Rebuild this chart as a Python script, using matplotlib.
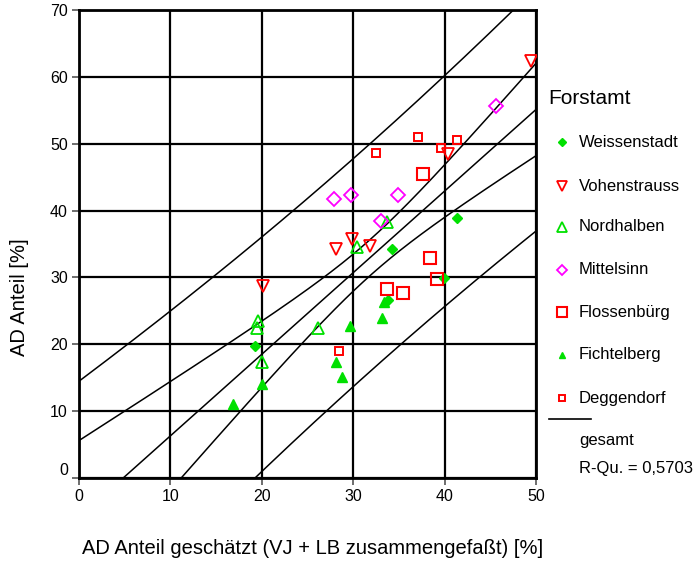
import numpy as np
import matplotlib
matplotlib.use("Agg")
import matplotlib.pyplot as plt
from matplotlib.lines import Line2D

plt.rcParams['font.family'] = ['Liberation Sans', 'DejaVu Sans']

# Messwerte je Forstamt: geschaetzter und tatsaechlicher AD-Anteil [%]
weissenstadt_x = [19.3, 33.8, 34.2, 39.9, 41.4]
weissenstadt_y = [19.7, 26.6, 34.25, 29.9, 38.9]
vohenstrauss_x = [20.1, 28.1, 29.9, 31.8, 40.4, 49.45]
vohenstrauss_y = [28.7, 34.2, 35.8, 34.7, 48.4, 62.4]
nordhalben_x = [19.6, 19.5, 20.05, 26.2, 30.4, 33.7]
nordhalben_y = [23.5, 22.5, 17.4, 22.4, 34.6, 38.3]
mittelsinn_x = [27.9, 29.8, 33.0, 34.9, 45.6]
mittelsinn_y = [41.7, 42.4, 38.5, 42.4, 55.6]
flossenburg_x = [33.7, 35.4, 38.4, 39.2, 37.6]
flossenburg_y = [28.3, 27.6, 32.9, 29.7, 45.5]
fichtelberg_x = [16.8, 20.0, 28.1, 28.8, 29.65, 33.2, 33.4]
fichtelberg_y = [11.0, 14.0, 17.4, 15.15, 22.8, 24.0, 26.3]
deggendorf_x = [28.45, 32.5, 37.1, 39.6, 41.4]
deggendorf_y = [19.0, 48.6, 51.0, 49.4, 50.5]

forstamt_names = ['Weissenstadt', 'Vohenstrauss', 'Nordhalben', 'Mittelsinn',
                  'Flossenbürg', 'Fichtelberg', 'Deggendorf']
r_squared_label = 'R-Qu. = 0,5703'

GREEN = '#00e000'
RED = '#ff0000'
MAGENTA = '#ff00ff'

series = [
    (weissenstadt_x, weissenstadt_y, dict(marker='D', ms=5.5, mfc=GREEN, mec=GREEN)),
    (vohenstrauss_x, vohenstrauss_y, dict(marker='v', ms=9, mfc='none', mec=RED, mew=1.3)),
    (nordhalben_x, nordhalben_y, dict(marker='^', ms=9, mfc='none', mec=GREEN, mew=1.3)),
    (mittelsinn_x, mittelsinn_y, dict(marker='D', ms=7, mfc='none', mec=MAGENTA, mew=1.3)),
    (flossenburg_x, flossenburg_y, dict(marker='s', ms=8.5, mfc='none', mec=RED, mew=1.5)),
    (fichtelberg_x, fichtelberg_y, dict(marker='^', ms=6.5, mfc=GREEN, mec=GREEN)),
    (deggendorf_x, deggendorf_y, dict(marker='s', ms=6, mfc='none', mec=RED, mew=1.4)),
]

W, H = 697, 563
fig = plt.figure(figsize=(W / 100, H / 100), dpi=100)
ax = fig.add_axes([79 / W, 1 - 478 / H, (536 - 79) / W, (478 - 10) / H])

for xs, ys, style in series:
    ax.plot(xs, ys, ls='none', zorder=5, **style)

# lineare Regression ueber alle Forstaemter mit 95%-Vertrauens- und Vorhersagebereich
all_x = np.concatenate([s[0] for s in series]).astype(float)
all_y = np.concatenate([s[1] for s in series]).astype(float)
n = len(all_x)
slope, intercept = np.polyfit(all_x, all_y, 1)
resid = all_y - (intercept + slope * all_x)
s_err = np.sqrt(np.sum(resid ** 2) / (n - 2))
t_val = 2.026
x_mean = all_x.mean()
sxx = np.sum((all_x - x_mean) ** 2)

xx = np.linspace(0, 50, 300)
yy = intercept + slope * xx
conf = t_val * s_err * np.sqrt(1 / n + (xx - x_mean) ** 2 / sxx)
pred = t_val * s_err * np.sqrt(1 + 1 / n + (xx - x_mean) ** 2 / sxx)
for curve in (yy, yy + conf, yy - conf, yy + pred, yy - pred):
    ax.plot(xx, curve, color='black', lw=1.1, zorder=4)

ax.set_xlim(0, 50)
ax.set_ylim(0, 70)
ax.set_xticks(range(0, 51, 10))
ax.set_yticks(range(0, 71, 10))
ax.grid(True, color='black', lw=1.6)
ax.set_axisbelow(True)
for side in ax.spines.values():
    side.set_linewidth(2)
ax.tick_params(direction='out', length=5, width=1.2, color='#555555',
               labelsize=11.5, pad=3)
ax.get_yticklabels()[0].set_verticalalignment('bottom')

fig.text(20 / W, 1 - 297 / H, 'AD Anteil [%]', rotation=90,
         ha='center', va='center', fontsize=14.5)
fig.text(313 / W, 1 - 548 / H, 'AD Anteil geschätzt (VJ + LB zusammengefaßt) [%]',
         ha='center', va='center', fontsize=14.5)

# Legende
fig.text(548 / W, 1 - 99 / H, 'Forstamt', ha='left', va='center', fontsize=15)
legend_rows = [142, 186, 227, 270, 312, 355, 398]
legend_sizes = [4, 6.5, 6.5, 5.5, 6.5, 5, 4.5]
for name, row, (xs, ys, style), ms in zip(forstamt_names, legend_rows, series, legend_sizes):
    st = dict(style)
    st['ms'] = ms
    fig.add_artist(Line2D([562 / W], [1 - row / H], transform=fig.transFigure,
                          ls='none', **st))
    fig.text(579 / W, 1 - row / H, name, ha='left', va='center', fontsize=12)
fig.add_artist(Line2D([549 / W, 591 / W], [1 - 419 / H] * 2,
                      transform=fig.transFigure, color='black', lw=1.2))
fig.text(579 / W, 1 - 440 / H, 'gesamt', ha='left', va='center', fontsize=12)
fig.text(579 / W, 1 - 468 / H, r_squared_label, ha='left', va='center', fontsize=12)

fig.savefig('out.png', dpi=100)
